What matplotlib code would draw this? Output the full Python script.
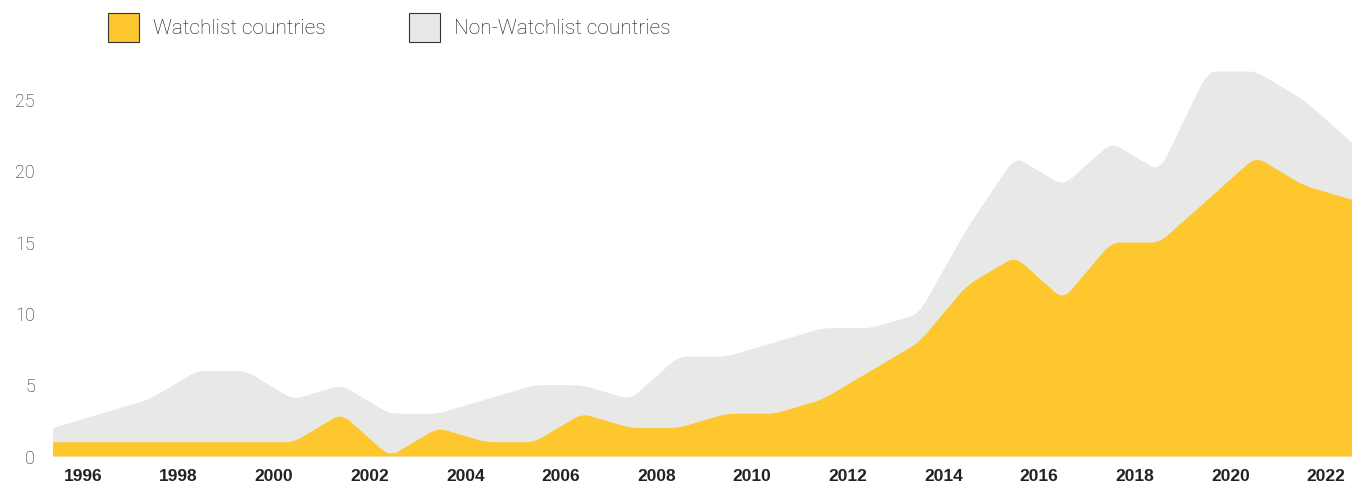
import numpy as np
import matplotlib
matplotlib.use('Agg')
import matplotlib.pyplot as plt
from matplotlib.path import Path
from matplotlib.patches import PathPatch, Patch

# yearly counts
years = np.arange(1996, 2024)
watchlist = [1, 1, 1, 1, 1, 1, 3, 0, 2, 1, 1, 3, 2, 2, 3, 3, 4, 6, 8, 12, 14, 11, 15, 15, 18, 21, 19, 18]
non_watchlist = [1, 2, 3, 5, 5, 3, 2, 3, 1, 3, 4, 2, 2, 5, 4, 5, 5, 3, 2, 4, 7, 8, 7, 5, 9, 6, 6, 4]
tick_years = list(range(1996, 2023, 2))

YELLOW = '#FEC72E'
GREY = '#E8E8E7'


# filled area whose top edge has softly rounded corners (like the original design)
def rounded_area(ax, x, y, color, t=0.17):
    pts = np.column_stack([x, y]).astype(float)
    verts = [(pts[0, 0], 0.0), tuple(pts[0])]
    codes = [Path.MOVETO, Path.LINETO]
    for i in range(1, len(pts) - 1):
        p = pts[i]
        a = p + t * (pts[i - 1] - p)
        b = p + t * (pts[i + 1] - p)
        verts += [tuple(a), tuple(p), tuple(b)]
        codes += [Path.LINETO, Path.CURVE3, Path.CURVE3]
    verts += [tuple(pts[-1]), (pts[-1, 0], 0.0), (pts[0, 0], 0.0)]
    codes += [Path.LINETO, Path.LINETO, Path.CLOSEPOLY]
    ax.add_patch(PathPatch(Path(verts, codes), facecolor=color, edgecolor='none', lw=0))


fig = plt.figure(figsize=(13.52, 4.87), dpi=100)
ax = fig.add_axes([53 / 1352, 30.5 / 487, 1 - 53 / 1352, 399.3 / 487])

total = np.array(watchlist) + np.array(non_watchlist)
rounded_area(ax, years, total, GREY)
rounded_area(ax, years, watchlist, YELLOW)

ax.set_xlim(years[0], years[-1])
ax.set_ylim(0, 28)

# year labels sit between the yearly points in the original
ax.set_xticks(np.linspace(1996.62, 2022.46, len(tick_years)))
ax.set_xticklabels([str(y) for y in tick_years], fontsize=12.5, fontweight='bold',
                   color='#222222', family=['Liberation Sans', 'DejaVu Sans'])
ax.set_yticks([0, 5, 10, 15, 20, 25])
ax.set_yticklabels(['0', '5', '10', '15', '20', '25'], fontsize=13, fontweight='light',
                   color='#222222', family=['Roboto', 'DejaVu Sans'])
ax.tick_params(axis='x', length=0, pad=9)
ax.tick_params(axis='y', length=0, pad=13)
for s in ax.spines.values():
    s.set_visible(False)

handles = [Patch(facecolor=YELLOW, edgecolor='#333333', lw=0.8, label='Watchlist countries'),
           Patch(facecolor=GREY, edgecolor='#333333', lw=0.8, label='Non-Watchlist countries')]
fig.legend(handles=handles, loc='upper left', bbox_to_anchor=(108 / 1352, 1 - 13 / 487),
           ncol=2, frameon=False, borderpad=0, borderaxespad=0,
           handlelength=1.5, handleheight=1.75, handletextpad=0.67, columnspacing=4.0,
           labelcolor='#111111',
           prop={'family': ['Roboto', 'DejaVu Sans'], 'weight': 'light', 'size': 15})

plt.savefig('out.png', dpi=100)
